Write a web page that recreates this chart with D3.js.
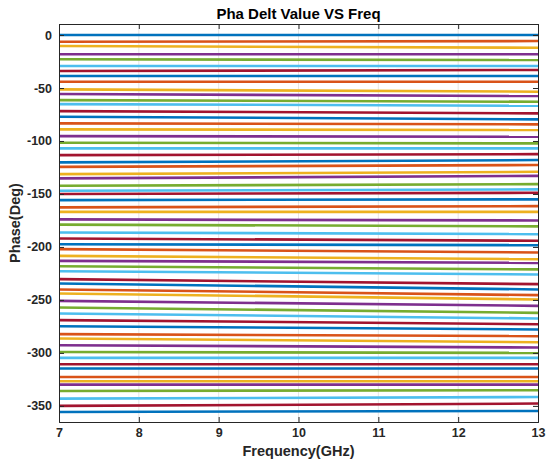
<!DOCTYPE html>
<html>
<head>
<meta charset="utf-8">
<script src="https://cdn.jsdelivr.net/npm/d3@7/dist/d3.min.js"></script>
<style>
  html, body { margin: 0; padding: 0; background: #ffffff; }
  svg { display: block; font-family: "Liberation Sans", Arial, sans-serif; }
</style>
</head>
<body>
<svg id="chart" width="546" height="464"></svg>
<script>
// Frequency sweep endpoints (GHz)
const freqs = [7, 13];

// Relative phase (deg) of each of the 64 phase states at the low end of the band
const phaseLow = [
  0, -6.3, -10.4, -18.2, -22.9, -29.3, -34.0, -38.7,
  -44.1, -51.3, -55.7, -61.4, -65.2, -71.8, -77.1, -83.4,
  -89.0, -95.4, -101.7, -107.0, -113.3, -120.2, -124.4, -131.3,
  -135.3, -142.3, -147.0, -150.1, -155.8, -162.7, -166.9, -174.0,
  -178.9, -186.3, -192.0, -197.4, -202.1, -208.4, -213.1, -218.2,
  -222.9, -230.4, -234.5, -240.1, -243.9, -250.9, -257.1, -262.8,
  -269.1, -274.8, -282.3, -286.4, -292.7, -299.1, -304.7, -310.7,
  -314.7, -322.7, -326.7, -329.9, -335.9, -343.1, -350.0, -355.7
];

// Relative phase (deg) of each state at the high end of the band
const phaseHigh = [
  0, -5.7, -12.0, -18.2, -23.6, -29.3, -33.0, -38.7,
  -44.1, -53.5, -57.6, -63.0, -66.8, -73.9, -79.6, -84.3,
  -89.7, -96.0, -102.3, -107.0, -112.4, -118.0, -122.7, -129.1,
  -132.9, -140.7, -145.7, -148.9, -155.1, -161.5, -166.9, -175.0,
  -180.6, -187.9, -194.2, -198.3, -205.2, -211.5, -215.0, -221.2,
  -226.0, -235.1, -240.1, -245.5, -249.6, -255.6, -262.2, -267.5,
  -272.9, -277.9, -284.2, -289.9, -294.9, -300.0, -304.7, -310.7,
  -314.7, -322.7, -326.7, -329.9, -335.2, -341.6, -347.8, -354.8
];

const xTicks = [7, 8, 9, 10, 11, 12, 13];
const yTicks = [0, -50, -100, -150, -200, -250, -300, -350];

// Default MATLAB line colour order
const colorOrder = ["#0072BD", "#D95319", "#EDB120", "#7E2F8E", "#77AC30", "#4DBEEE", "#A2142F"];

const svg = d3.select("#chart");
const plot = { left: 59, right: 538, top: 24, bottom: 422 };

const x = d3.scaleLinear().domain([7, 13]).range([plot.left, plot.right]);
const y = d3.scaleLinear().domain([-365.2, 10.4]).range([plot.bottom, plot.top]);

const axisColor = "#262626";
const fmt = d => String(d); // plain ASCII hyphen for negatives

// vertical grid lines
svg.append("g").selectAll("line").data(xTicks.slice(1, -1)).join("line")
  .attr("x1", d => x(d)).attr("x2", d => x(d))
  .attr("y1", plot.top).attr("y2", plot.bottom)
  .attr("stroke", "#dedede").attr("stroke-width", 0.8);

// phase curves
const series = phaseLow.map((v, i) => ({
  idx: i,
  pts: [[freqs[0], v], [freqs[1], phaseHigh[i]]]
}));

const line = d3.line().x(d => x(d[0])).y(d => y(d[1]));

svg.append("g").selectAll("path").data(series).join("path")
  .attr("d", d => line(d.pts))
  .attr("fill", "none")
  .attr("stroke", d => colorOrder[d.idx % colorOrder.length])
  .attr("stroke-width", 2.6);

// axes (ticks drawn inward on all four sides)
const tickLen = 5;
const fontTick = "bold 12.5px 'Liberation Sans', Arial, sans-serif";

const xBottom = svg.append("g").attr("transform", `translate(0,${plot.bottom})`)
  .call(d3.axisBottom(x).tickValues(xTicks).tickSize(-tickLen).tickPadding(6).tickFormat(fmt));
const xTop = svg.append("g").attr("transform", `translate(0,${plot.top})`)
  .call(d3.axisTop(x).tickValues(xTicks).tickSize(-tickLen).tickFormat(""));
const yLeft = svg.append("g").attr("transform", `translate(${plot.left},0)`)
  .call(d3.axisLeft(y).tickValues(yTicks).tickSize(-tickLen).tickPadding(7).tickFormat(fmt));
const yRight = svg.append("g").attr("transform", `translate(${plot.right},0)`)
  .call(d3.axisRight(y).tickValues(yTicks).tickSize(-tickLen).tickFormat(""));

[xBottom, xTop, yLeft, yRight].forEach(g => {
  g.select(".domain").attr("stroke", axisColor).attr("stroke-width", 1);
  g.selectAll(".tick line").attr("stroke", axisColor).attr("stroke-width", 1);
  g.selectAll(".tick text").attr("fill", axisColor).style("font", fontTick);
});

// title and axis labels
svg.append("text")
  .attr("x", (plot.left + plot.right) / 2).attr("y", 19)
  .attr("text-anchor", "middle")
  .attr("fill", "#000")
  .style("font", "bold 15px 'Liberation Sans', Arial, sans-serif")
  .text("Pha Delt Value VS Freq");

svg.append("text")
  .attr("x", (plot.left + plot.right) / 2).attr("y", 456)
  .attr("text-anchor", "middle")
  .attr("fill", axisColor)
  .style("font", "bold 14.5px 'Liberation Sans', Arial, sans-serif")
  .text("Frequency(GHz)");

svg.append("text")
  .attr("transform", `translate(20,${(plot.top + plot.bottom) / 2}) rotate(-90)`)
  .attr("text-anchor", "middle")
  .attr("fill", axisColor)
  .style("font", "bold 14.5px 'Liberation Sans', Arial, sans-serif")
  .text("Phase(Deg)");
</script>
</body>
</html>
